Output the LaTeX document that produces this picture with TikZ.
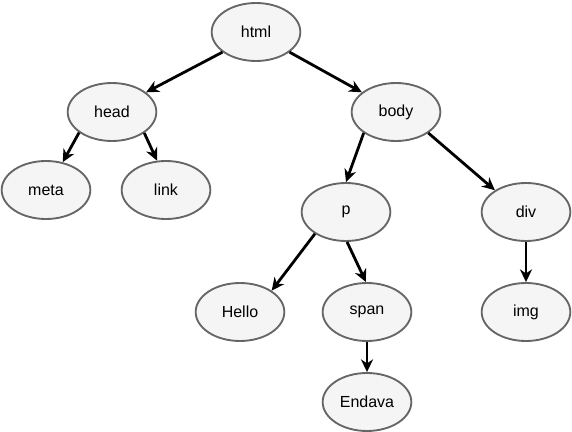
\documentclass[tikz,border=0pt]{standalone}
\usepackage{fontspec}
\setmainfont{Liberation Sans}
\usetikzlibrary{arrows.meta,shapes.geometric}
\definecolor{nodefill}{HTML}{F5F5F5}
\definecolor{nodeline}{HTML}{666666}
\tikzset{
  >={Stealth[length=9.5pt,width=9pt,inset=3pt]},
  tag/.style={ellipse,draw=nodeline,fill=nodefill,line width=1.4pt,inner sep=0pt,
    minimum width=66.5pt,minimum height=43.5pt,font=\fontsize{12}{14}\selectfont},
  arrow/.style={->,line width=2.1pt},
}
\begin{document}
\begin{tikzpicture}[x=0.75pt,y=-0.75pt]
			\useasboundingbox (0,0) rectangle (572,432);
			\node[tag] (html) at (256,32) {html};
			\node[tag] (head) at (112,112) {head};
			\node[tag] (body) at (396,112) {body};
			\node[tag] (meta) at (46,190) {meta};
			\node[tag] (link) at (166,190) {link};
			\node[tag] (p) at (346,212) {p};
			\node[tag] (div) at (526,212) {div};
			\node[tag] (hello) at (240,312) {Hello};
			\node[tag] (span) at (367,312) {span};
			\node[tag] (img) at (526,312) {img};
			\node[tag] (endava) at (367,402) {Endava};
			\draw[arrow] (html.211) -- (head.30);
			\draw[arrow] (html.329) -- (body.150);
			\draw[arrow] (head.212) -- (meta.59);
			\draw[arrow] (head.327) -- (link.107);
			\draw[arrow] (body.213) -- (p.90);
			\draw[arrow] (body.327) -- (div.145);
			\draw[arrow] (p.215) -- (hello.34);
			\draw[arrow] (p.272) -- (span.92);
			\draw[arrow] (span.south) -- (endava.north);
			\draw[arrow] (div.south) -- (img.north);
		\end{tikzpicture}
\end{document}
